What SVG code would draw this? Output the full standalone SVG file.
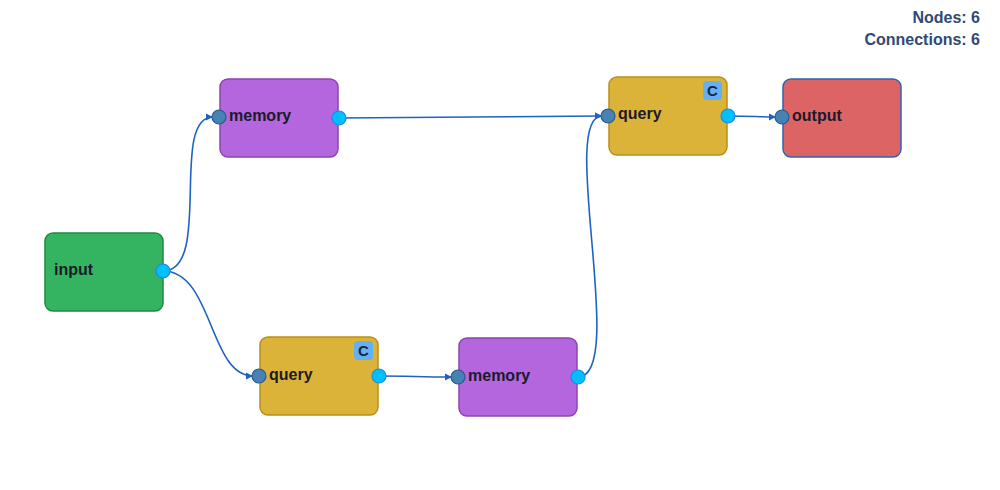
<svg xmlns="http://www.w3.org/2000/svg" width="1000" height="490" viewBox="0 0 1000 490">
<defs>
<style>
.lbl{font-family:"Liberation Sans",Arial,sans-serif;font-weight:bold;font-size:16px;fill:#1a1a2a}
.stat{font-family:"Liberation Sans",Arial,sans-serif;font-weight:bold;font-size:16px;fill:#2e4a75;text-anchor:end}
.conn{fill:none;stroke:#1e62c4;stroke-width:1.6}
.pin{fill:#4682b4;stroke:#2a5a8c;stroke-width:1.2}
.pout{fill:#00bfff;stroke:#1e88e5;stroke-width:1.2}
.badge{fill:#64b0f4}
.btxt{font-family:"Liberation Sans",Arial,sans-serif;font-weight:bold;font-size:15px;fill:#1a2540;text-anchor:middle}
.green{fill:#34b360;stroke:#1e8a42;stroke-width:1.5}
.purple{fill:#b366dd;stroke:#8e44ad;stroke-width:1.5}
.gold{fill:#dbb338;stroke:#b8901a;stroke-width:1.5}
.red{fill:#dd6464;stroke:#2f64b0;stroke-width:1.5}
</style>
<marker id="arr" markerWidth="8" markerHeight="8" refX="7" refY="4" orient="auto" markerUnits="userSpaceOnUse">
<path d="M0,0.5 L7,4 L0,7.5 Z" fill="#1e62c4"/>
</marker>
</defs>
<rect width="1000" height="490" fill="#ffffff"/>
<g id="connectors">
<path class="conn" marker-end="url(#arr)" d="M163,271 C213,271 169,117 213,117"/>
<path class="conn" marker-end="url(#arr)" d="M339,118 C420,118 520,116 602,116"/>
<path class="conn" marker-end="url(#arr)" d="M728,116 C750,116 760,117 776,117"/>
<path class="conn" marker-end="url(#arr)" d="M163,271 C213,271 209,376 253,376"/>
<path class="conn" marker-end="url(#arr)" d="M379,376 C410,376 420,377 452,377"/>
<path class="conn" marker-end="url(#arr)" d="M578,377 C628,377 558,116 602,116"/>
</g>
<g id="node-input">
<rect class="green" x="45" y="233" width="118" height="78" rx="8"/>
<text class="lbl" x="54" y="275">input</text>
<circle class="pout" cx="163" cy="271" r="7"/>
</g>
<g id="node-memory1">
<rect class="purple" x="220" y="79" width="118" height="78" rx="8"/>
<text class="lbl" x="229" y="121">memory</text>
<circle class="pin" cx="219" cy="117" r="7"/>
<circle class="pout" cx="339" cy="118" r="7"/>
</g>
<g id="node-query1">
<rect class="gold" x="609" y="77" width="118" height="78" rx="8"/>
<rect class="badge" x="703" y="81" width="19" height="19" rx="4"/>
<text class="btxt" x="712.5" y="96">C</text>
<text class="lbl" x="618" y="119">query</text>
<circle class="pin" cx="608" cy="116" r="7"/>
<circle class="pout" cx="728" cy="116" r="7"/>
</g>
<g id="node-output">
<rect class="red" x="783" y="79" width="118" height="78" rx="8"/>
<text class="lbl" x="792" y="121">output</text>
<circle class="pin" cx="782" cy="117" r="7"/>
</g>
<g id="node-query2">
<rect class="gold" x="260" y="337" width="118" height="78" rx="8"/>
<rect class="badge" x="354" y="341" width="19" height="19" rx="4"/>
<text class="btxt" x="363.5" y="356">C</text>
<text class="lbl" x="269" y="380">query</text>
<circle class="pin" cx="259" cy="376" r="7"/>
<circle class="pout" cx="379" cy="376" r="7"/>
</g>
<g id="node-memory2">
<rect class="purple" x="459" y="338" width="118" height="78" rx="8"/>
<text class="lbl" x="468" y="381">memory</text>
<circle class="pin" cx="458" cy="377" r="7"/>
<circle class="pout" cx="578" cy="377" r="7"/>
</g>
<g id="stats">
<text class="stat" x="980" y="23">Nodes: 6</text>
<text class="stat" x="980" y="45">Connections: 6</text>
</g>
</svg>
